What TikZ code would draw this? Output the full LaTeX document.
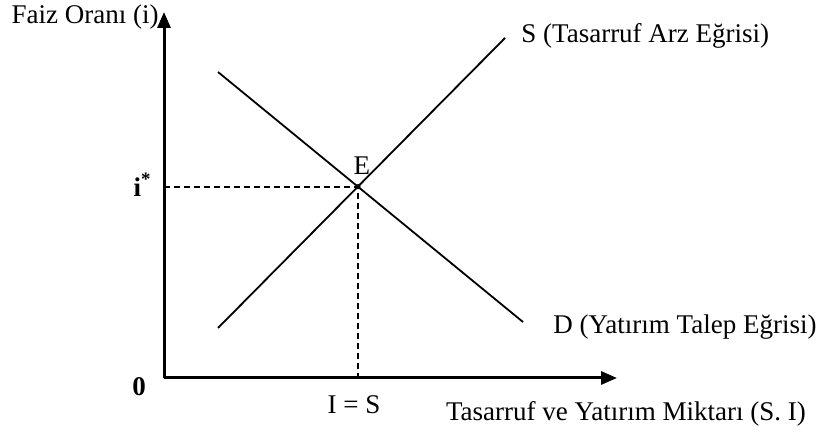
\documentclass[tikz,border=0pt]{standalone}
\usepackage{fontspec}
\setmainfont{Liberation Serif}
\usetikzlibrary{arrows.meta,positioning}
\tikzset{
  axis/.style={
    line width=1.5pt,
    -{Triangle[length=8pt,width=6.5pt]}
  },
  curve/.style={line width=0.9pt},
  guide/.style={line width=0.9pt, dash pattern=on 3pt off 2pt},
  lbl/.style={
    font=\fontsize{13.5}{15}\selectfont,
    inner sep=1pt
  }
}

\begin{document}
\begin{tikzpicture}[x=0.5pt,y=-0.5pt]
  \useasboundingbox (0,0) rectangle (821,437);

  \coordinate (o) at (164,378);
  \coordinate (ytop) at (164,12);
  \coordinate (xend) at (617,378);
  \coordinate (s1) at (218,328);
  \coordinate (s2) at (505,38);
  \coordinate (d1) at (218,72);
  \coordinate (d2) at (523,322);
  \coordinate (e) at (intersection of s1--s2 and d1--d2);

  \draw[axis] (o) -- (ytop);
  \draw[axis] (o) -- (xend);

  \draw[curve] (s1) -- (s2);
  \draw[curve] (d1) -- (d2);

  \draw[guide] (o |- e) -- (e) -- (o -| e);
  \fill (e) circle (1.3pt);

  \node[lbl, anchor=east] (yname) at (161,17) {Faiz Oranı (i)};
  \node[lbl, anchor=center] (xname) at (626,414) {Tasarruf ve Yatırım Miktarı (S. I)};
  \node[lbl, anchor=west] (sname) at (519,36) {S (Tasarruf Arz Eğrisi)};
  \node[lbl, anchor=west] (dname) at (551,327) {D (Yatırım Talep Eğrisi)};
  \node[lbl, above=5pt of e, xshift=2pt] (ename) {E};
  \node[lbl, left=5pt of o |- e, yshift=1pt] (istar) {\textbf{i}\textsuperscript{\textbf{*}}};
  \node[lbl, anchor=center] (zero) at (139,387) {\textbf{0}};
  \node[lbl, anchor=center] (eq) at (354,405) {I = S};
\end{tikzpicture}
\end{document}
